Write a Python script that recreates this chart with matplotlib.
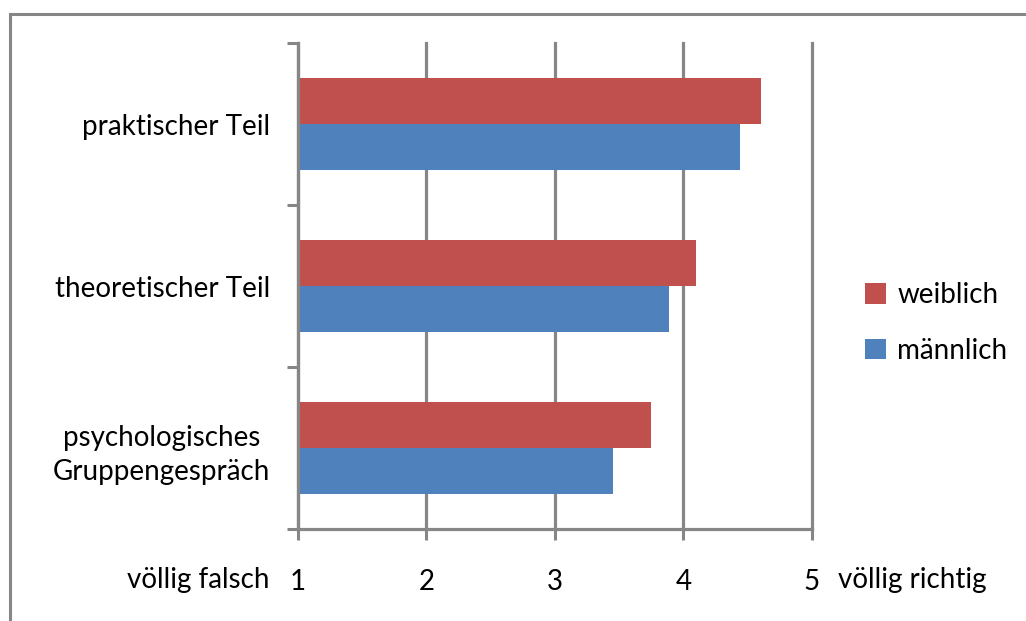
import numpy as np
from matplotlib import pyplot as plt
from matplotlib.patches import Rectangle

# Mittelwerte der Bewertung (1 = völlig falsch, 5 = völlig richtig)
categories = ['psychologisches\nGruppengespräch', 'theoretischer Teil', 'praktischer Teil']
weiblich = [3.75, 4.10, 4.60]
maennlich = [3.45, 3.89, 4.44]
x_ticks = [1, 2, 3, 4, 5]

red = '#C0504D'
blue = '#4F81BD'
grey = '#868686'
fs = 20

plt.rcParams['font.family'] = ['Lato', 'DejaVu Sans']
plt.rcParams['font.size'] = fs

fig = plt.figure(figsize=(10.26, 6.21), dpi=100)
ax = fig.add_axes([0.2904, 0.1481, 0.5010, 0.7826])

y = np.arange(len(categories))
h = 0.284
ax.barh(y + h / 2, np.array(weiblich) - 1, left=1, height=h, color=red, label='weiblich', zorder=3)
ax.barh(y - h / 2, np.array(maennlich) - 1, left=1, height=h, color=blue, label='männlich', zorder=3)

ax.set_xlim(1, 5)
ax.set_ylim(-0.5, len(categories) - 0.5)

ax.set_xticks(x_ticks)
ax.set_xticklabels([str(t) for t in x_ticks])
ax.tick_params(axis='x', length=8, width=2.2, color=grey, pad=21, labelsize=fs)

# Kategoriegrenzen als Ticks, Beschriftung in der Mitte
ax.set_yticks(np.arange(-0.5, len(categories)), labels=[])
ax.set_yticks(y, labels=categories, minor=True)
ax.tick_params(axis='y', which='major', length=8, width=2.2, color=grey)
ax.tick_params(axis='y', which='minor', length=0, pad=20, labelsize=fs)
for lbl in ax.get_yticklabels(minor=True):
    lbl.set_multialignment('center')
    lbl.set_linespacing(1.4)

ax.grid(True, axis='x', color=grey, linewidth=2.3, zorder=0)
for gl in ax.get_xgridlines():
    gl.set_clip_on(False)
for s in ['top', 'right']:
    ax.spines[s].set_visible(False)
for s in ['left', 'bottom']:
    ax.spines[s].set_color(grey)
    ax.spines[s].set_linewidth(2.3)
ax.spines['left'].set_zorder(4)

ax.text(-0.055, -0.078, 'völlig falsch', transform=ax.transAxes, ha='right', va='top',
        fontsize=fs)
ax.text(1.05, -0.078, 'völlig richtig', transform=ax.transAxes, ha='left', va='top',
        fontsize=fs)

handles, labels = ax.get_legend_handles_labels()
fig.legend(handles, labels, loc='center left', bbox_to_anchor=(0.830, 0.480),
           frameon=False, borderpad=0, handlelength=0.75, handleheight=0.75,
           handletextpad=0.4, labelspacing=1.05, fontsize=fs)

# Rahmen um das Diagramm
fig.patches.append(Rectangle((0.0097, -0.2), 1.3, 0.9775 + 0.2, transform=fig.transFigure,
                             fill=False, edgecolor=grey, linewidth=2.2, clip_on=False))

plt.savefig('out.png', dpi=100)
